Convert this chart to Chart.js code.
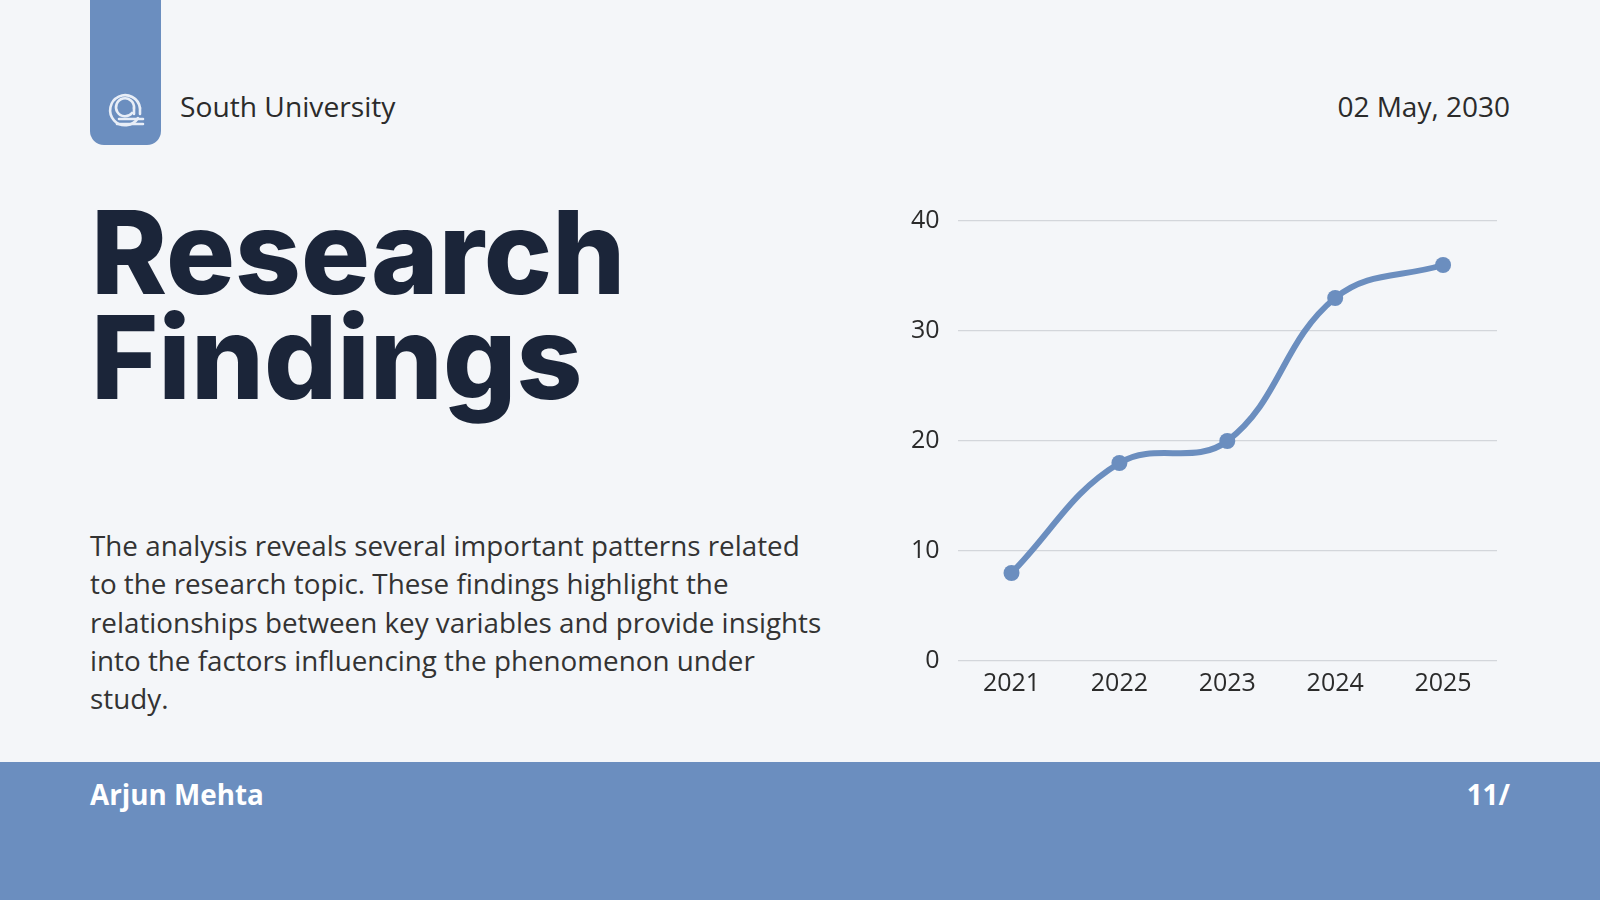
<!DOCTYPE html>
<html>
<head>
<meta charset="utf-8">
<script src="https://cdn.jsdelivr.net/npm/chart.js@4/dist/chart.umd.min.js"></script>
<style>
    html, body { margin: 0; padding: 0; }
    body {
        width: 1600px; height: 900px; position: relative; overflow: hidden;
        background: #f4f6f9; font-family: "Open Sans", sans-serif; color: #2b2b2b;
    }
    .tab {
        position: absolute; left: 90px; top: 0; width: 71px; height: 145px;
        background: #6b8ebf; border-radius: 0 0 14px 14px;
    }
    .tab svg { position: absolute; left: 15px; top: 88px; }
    .org { position: absolute; left: 180px; top: 87px; font-size: 28.2px; line-height: 38px; }
    .date { position: absolute; right: 90px; top: 87px; font-size: 28px; line-height: 38px; }
    .title {
        position: absolute; left: 91px; top: 200px; margin: 0;
        font-family: Inter, sans-serif; font-weight: 800; font-size: 115px;
        line-height: 105px; color: #1b2539; letter-spacing: 0px;
    }
    .desc {
        position: absolute; left: 90px; top: 526px; margin: 0;
        font-size: 27.8px; line-height: 38.3px; color: #333;
    }
    .footer {
        position: absolute; left: 0; top: 762px; width: 1600px; height: 138px;
        background: #6b8ebf; color: #fff; font-weight: 700; font-size: 27.8px;
    }
    .footer .name { position: absolute; left: 90px; top: 13px; }
    .footer .page { position: absolute; right: 90px; top: 13px; }
    .chart-box { position: absolute; left: 893px; top: 188px; width: 612px; height: 511px; }
</style>
</head>
<body>
<div class="tab">
    <svg width="42" height="42" viewBox="0 0 42 42" fill="none" stroke="#e8eef7" stroke-width="2.6" stroke-linecap="round">
        <path d="M33 30 A15 15 0 1 1 35 20"/>
        <path d="M27 25 A9 9 0 1 1 29 20"/>
        <path d="M35 20 L35 26 M29 20 L29 26"/>
        <path d="M14 31 L38 31 M12 36 L38 36"/>
    </svg>
</div>
<div class="org">South University</div>
<div class="date">02 May, 2030</div>
<h1 class="title">Research<br>Findings</h1>
<p class="desc">The analysis reveals several important patterns related<br>to the research topic. These findings highlight the<br>relationships between key variables and provide insights<br>into the factors influencing the phenomenon under<br>study.</p>
<div class="footer"><span class="name">Arjun Mehta</span><span class="page">11/</span></div>
<div class="chart-box"><canvas id="findingsChart"></canvas></div>

<script>
const years = ['2021', '2022', '2023', '2024', '2025'];
const findingValues = [8, 18, 20, 33, 36];
const yTicks = [0, 10, 20, 30, 40];

const lineBlue = '#6b8ebf';

const ctx = document.getElementById('findingsChart').getContext('2d');
new Chart(ctx, {
    type: 'line',
    data: {
        labels: years,
        datasets: [{
            label: 'Findings',
            data: findingValues,
            borderColor: lineBlue,
            backgroundColor: lineBlue,
            borderWidth: 6,
            tension: 0.4,
            pointRadius: 8,
            pointBackgroundColor: lineBlue,
            pointBorderWidth: 0,
            fill: false
        }]
    },
    options: {
        responsive: true,
        maintainAspectRatio: false,
        animation: false,
        layout: { padding: 0 },
        plugins: {
            legend: { display: false },
            tooltip: { enabled: false }
        },
        scales: {
            x: {
                offset: true,
                grid: { display: false },
                border: { display: false },
                ticks: {
                    color: '#2b2b2b',
                    padding: 0,
                    font: { family: 'Open Sans', size: 25 }
                }
            },
            y: {
                min: yTicks[0],
                max: yTicks[yTicks.length - 1],
                afterBuildTicks: axis => { axis.ticks = yTicks.map(v => ({ value: v })); },
                grid: { color: '#d3d6db', lineWidth: 1.2, drawTicks: false },
                border: { display: false },
                ticks: {
                    color: '#2b2b2b',
                    padding: 18,
                    font: { family: 'Open Sans', size: 25 }
                }
            }
        }
    }
});
</script>
</body>
</html>
